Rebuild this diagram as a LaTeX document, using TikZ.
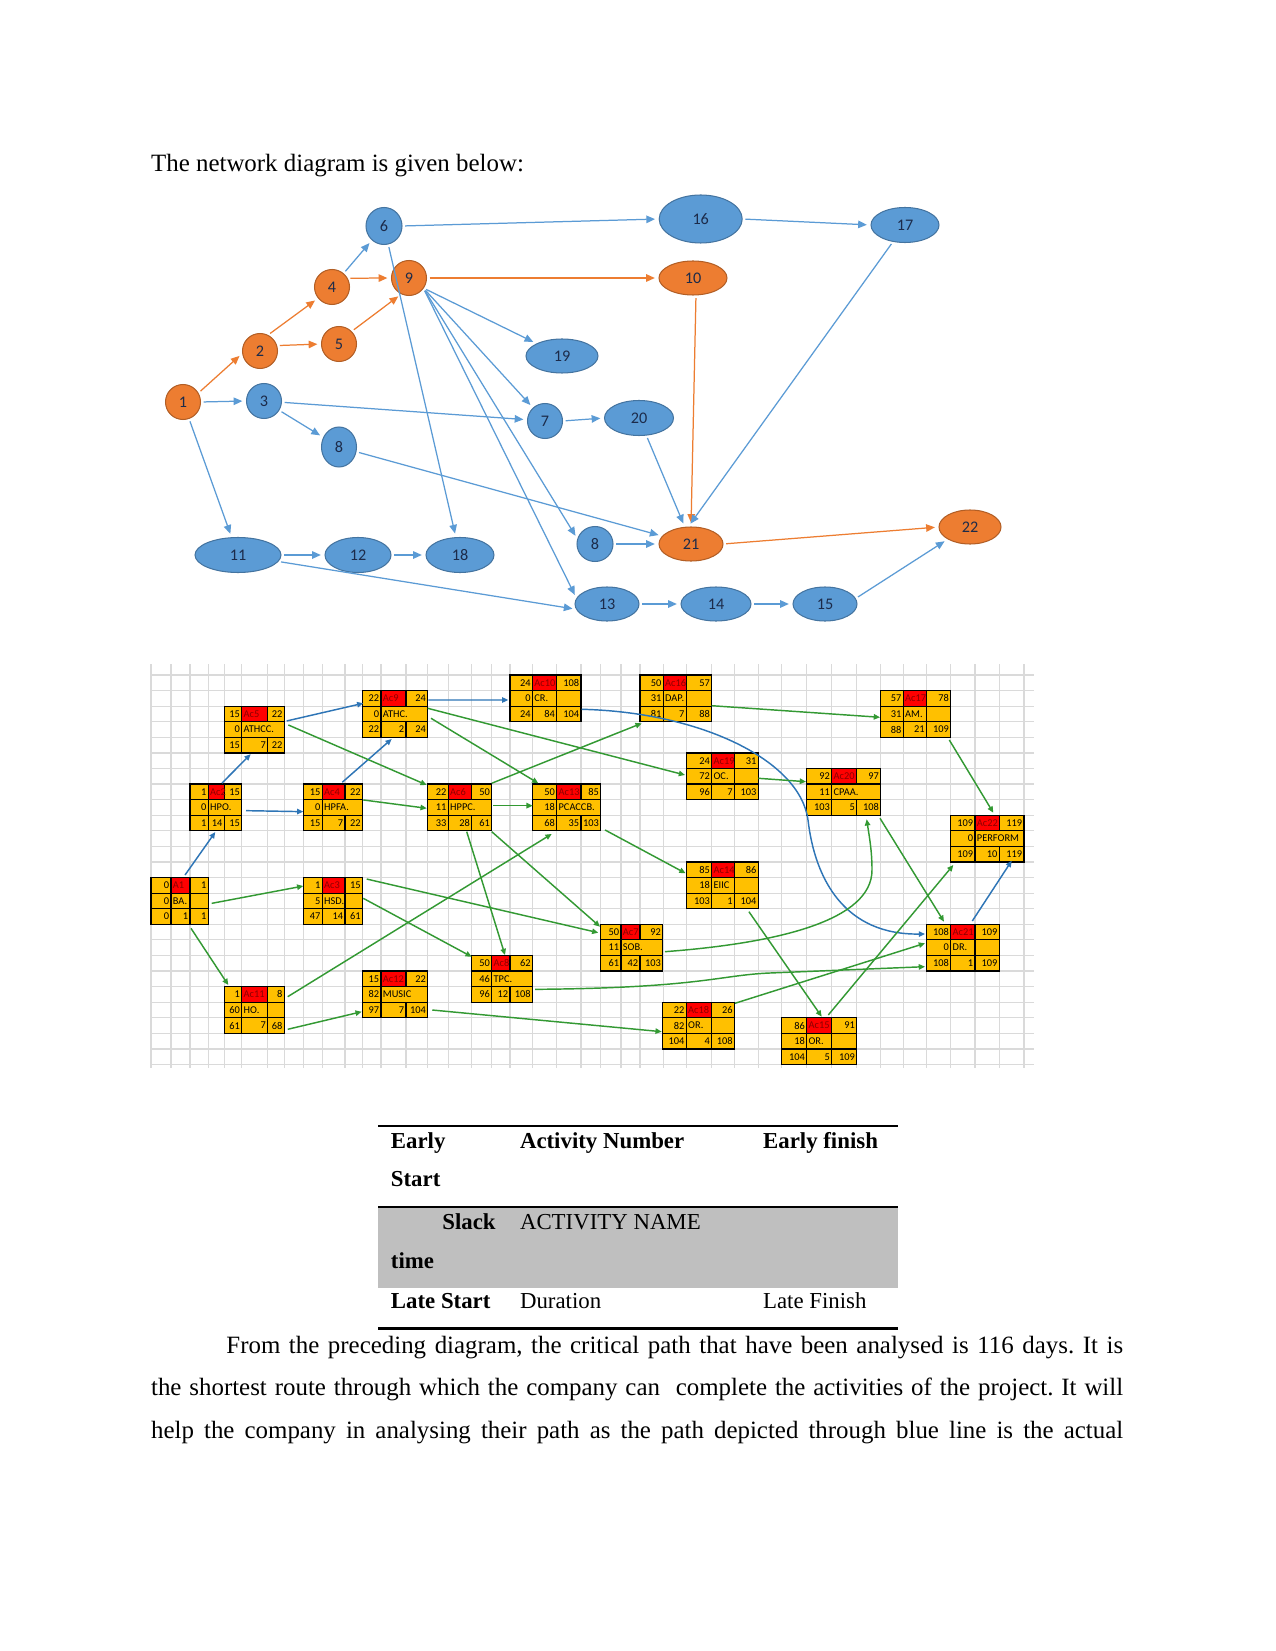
\documentclass[tikz,border=0pt]{standalone}
\usepackage{fontspec}
\setmainfont{Liberation Serif}
\newfontfamily\calibri{Carlito}
\usetikzlibrary{arrows.meta,shapes.geometric,calc}
\definecolor{evblue}{HTML}{5B9BD5}
\definecolor{evorange}{HTML}{ED7D31}
\definecolor{evtext}{HTML}{1C2B4A}
\definecolor{cellfill}{HTML}{FFC000}
\definecolor{cellred}{HTML}{FF0000}
\definecolor{idtext}{HTML}{8B0000}
\definecolor{pathblue}{HTML}{2E75B6}
\definecolor{pathgreen}{HTML}{339933}
\definecolor{gridline}{HTML}{DADADA}
\definecolor{band}{HTML}{BFBFBF}
\newdimen\pxu
\pxu=0.4818pt
\tikzset{
  ev/.style={ellipse,inner sep=0pt,outer sep=0pt,line width=0.5pt,font=\calibri\fontsize{7.8}{9}\selectfont,text=evtext},
  crit/.style={ev,fill=evorange,draw=evorange!75!black},
  norm/.style={ev,fill=evblue,draw=evblue!75!black},
  sz/.style 2 args={minimum width=#1*\pxu,minimum height=#2*\pxu},
  critlink/.style={draw=evorange,line width=0.6pt,-{Triangle[length=4.2pt,width=3.6pt]},shorten >=2pt,shorten <=1.5pt},
  normlink/.style={draw=evblue,line width=0.6pt,-{Triangle[length=4.2pt,width=3.6pt]},shorten >=2pt,shorten <=1.5pt},
  cell/.style={inner sep=0pt,font=\calibri\fontsize{5}{6}\selectfont},
  num/.style={cell,anchor=east},
  lbl/.style={cell,anchor=west},
  boxline/.style={line width=0.6pt},
  blink/.style={draw=pathblue,line width=0.7pt,-{Triangle[length=3pt,width=2.6pt]}},
  glink/.style={draw=pathgreen,line width=0.7pt,-{Triangle[length=3pt,width=2.6pt]}},
  tab/.style={inner sep=0pt,anchor=base west,font=\fontsize{11}{13}\selectfont},
}

\begin{document}
\begin{tikzpicture}[x=0.4818pt,y=-0.4818pt]
  \fill[white] (0,0) rectangle (1275,1651);
  \useasboundingbox (0,0) rectangle (1275,1651);

  \node[anchor=base west,inner sep=0pt,font=\fontsize{12}{14}\selectfont] (title) at (150.7,171.7) {The network diagram is given below:};

  % Event network
  \node[crit,sz={35}{35}] (n1) at (183,402) {1};
  \node[crit,sz={35}{35}] (n2) at (260,351) {2};
  \node[norm,sz={35}{35}] (n3) at (264,401) {3};
  \node[crit,sz={35}{35}] (n4) at (332,287) {4};
  \node[crit,sz={35}{35}] (n5) at (339,344) {5};
  \node[norm,sz={36}{37}] (n6) at (384,226) {6};
  \node[crit,sz={35}{35}] (n9) at (409,278) {9};
  \node[norm,sz={35}{40}] (n8a) at (339,447) {8};
  \node[norm,sz={72}{34}] (n19) at (562,356) {19};
  \node[norm,sz={35}{35}] (n7) at (545,421) {7};
  \node[norm,sz={86}{35}] (n11) at (238,555) {11};
  \node[norm,sz={66}{35}] (n12) at (358,555) {12};
  \node[norm,sz={68}{35}] (n18) at (460,555) {18};
  \node[norm,sz={83}{48}] (n16) at (700.7,219) {16};
  \node[norm,sz={68}{35}] (n17) at (905,225) {17};
  \node[crit,sz={68}{34}] (n10) at (693,278) {10};
  \node[norm,sz={69}{35}] (n20) at (639,418) {20};
  \node[norm,sz={36}{35}] (n8b) at (595,544) {8};
  \node[crit,sz={64}{34}] (n21) at (691,544) {21};
  \node[crit,sz={62}{34}] (n22) at (970,527) {22};
  \node[norm,sz={64}{34}] (n13) at (607,604) {13};
  \node[norm,sz={70}{34}] (n14) at (716,604) {14};
  \node[norm,sz={64}{34}] (n15) at (825,604) {15};

  % critical events
  \draw[critlink] (n1.30) -- (n2.187);
  \draw[critlink] (n2.64) -- (n4.219);
  \draw[critlink] (n2.18) -- (n5.west);
  \draw[critlink] (n4.30) -- (n9.west);
  \draw[critlink] (n5.45) -- (n9.245);
  \draw[critlink] (n9.east) -- (n10.west);
  \draw[critlink] (n10.-80) -- (n21.north);
  \draw[critlink] (n21.east) -- (n22.west);

  % other events
  \draw[normlink] (n1.east) -- (n3.west);
  \draw[normlink] (n1) -- (n11);
  \draw[normlink] (n3) -- (n7);
  \draw[normlink] (n3) -- (n8a);
  \draw[normlink] (n4) -- (n6);
  \draw[normlink] (n6.east) -- (n16.west);
  \draw[normlink] (n16.east) -- (n17.west);
  \draw[normlink] (n6) -- (n18);
  \draw[normlink] (n9.-35) -- (n19);
  \draw[normlink] (n9.-35) -- (n7);
  \draw[normlink] (n9.-35) -- (n8b.165);
  \draw[normlink] (n9.-35) -- (n13.170);
  \draw[normlink] (n7.east) -- (n20.west);
  \draw[normlink] (n20) -- (n21.110);
  \draw[normlink] (n17) -- (n21.100);
  \draw[normlink] (n8a) -- (n21);
  \draw[normlink] (n8b.east) -- (n21.west);
  \draw[normlink] (n11.east) -- (n12.west);
  \draw[normlink] (n12.east) -- (n18.west);
  \draw[normlink] (n11) -- (n13.190);
  \draw[normlink] (n13.east) -- (n14.west);
  \draw[normlink] (n14.east) -- (n15.west);
  \draw[normlink] (n15.10) -- (n22.south west);

  % Spreadsheet grid
  \begin{scope}
    \clip (150,664) rectangle (1034,1068);
    \foreach \gx in {151,171,190,208.3,224.3,241.7,267.7,284.3,303.3,322.3,345,362.5,381,406,427.7,448.3,471.7,491.7,510,532.5,556.7,581,600.7,621,640,663.3,686.3,711.7,734.5,758.3,781.7,806.7,831.7,856.7,880.7,903.3,926.5,950.7,975,999.3,1024}
      \draw[gridline,line width=0.6pt] (\gx,664) -- (\gx,1068);
    \foreach \k in {-1,...,25}
      \draw[gridline,line width=0.6pt] (150,675+15.58*\k) -- (1034,675+15.58*\k);
  \end{scope}

  % Activity boxes: name/x0/x1/x2/x3/row/ES/id/EF/slack/name/split/LS/dur/LF
  \foreach \bx/\xa/\xb/\xc/\xd/\row/\ES/\AID/\EF/\SLK/\ANM/\MSP/\LS/\DUR/\LF in {
      ac1/151/171/190/208.3/13/0/A1/1/0/BA./1/0/1/1,
      ac2/190/208.3/224.3/241.7/7/1/Ac2/15/0/HPO./0/1/14/15,
      ac3/303.3/322.3/345/362.5/13/1/Ac3/15/5/HSD./1/47/14/61,
      ac4/303.3/322.3/345/362.5/7/15/Ac4/22/0/HPFA./0/15/7/22,
      ac5/224.3/241.7/267.7/284.3/2/15/Ac5/22/0/ATHCC./0/15/7/22,
      ac6/427.7/448.3/471.7/491.7/7/22/Ac6/50/11/HPPC./0/33/28/61,
      ac7/600.7/621/640/662.7/16/50/Ac7/92/11/SOB./0/61/42/103,
      ac8/471.7/491.7/510/532.5/18/50/Ac8/62/46/TPC./0/96/12/108,
      ac9/362.5/381/406/427.7/1/22/Ac9/24/0/ATHC./0/22/2/24,
      ac10/510/532.5/556.7/581/0/24/Ac10/108/0/CR./1/24/84/104,
      ac11/224.3/241.7/267.7/284.3/20/1/Ac11/8/60/HO./1/61/7/68,
      ac12/362.5/381/406/427.7/19/15/Ac12/22/82/MUSIC/0/97/7/104,
      ac13/532.5/556.7/581/600.7/7/50/Ac13/85/18/PCACCB./0/68/35/103,
      ac14/686.3/711.7/734.5/758.3/12/85/Ac14/86/18/EIIC/1/103/1/104,
      ac15/781.7/806.7/831.7/856.7/22/86/Ac15/91/18/OR./1/104/5/109,
      ac16/640/663.3/686.3/711.7/0/50/Ac16/57/31/DAP./1/81/7/88,
      ac17/880.7/903.3/926.5/950.7/1/57/Ac17/78/31/AM./1/88/21/109,
      ac18/662.7/686.3/711.7/734.5/21/22/Ac18/26/82/OR./1/104/4/108,
      ac19/686.3/711.7/734.5/758.3/5/24/Ac19/31/72/OC./1/96/7/103,
      ac20/806.7/831.7/856.7/880.7/6/92/Ac20/97/11/CPAA./0/103/5/108,
      ac21/926.5/950.7/975/999.3/16/108/Ac21/109/0/DR./1/108/1/109,
      ac22/950.7/975/999.3/1024/9/109/Ac22/119/0/PERFORM/0/109/10/119} {
    \pgfmathsetmacro\yt{675+15.58*\row}
    \fill[cellfill] (\xa,\yt) rectangle (\xd,\yt+46.74);
    \fill[cellred] (\xb,\yt) rectangle (\xc,\yt+15.58);
    \draw[boxline] (\xa,\yt+15.58) -- (\xd,\yt+15.58) (\xa,\yt+31.16) -- (\xd,\yt+31.16)
      (\xb,\yt) -- (\xb,\yt+46.74) (\xc,\yt) -- (\xc,\yt+15.58) (\xc,\yt+31.16) -- (\xc,\yt+46.74);
    \ifnum\MSP=1 \draw[boxline] (\xc,\yt+15.58) -- (\xc,\yt+31.16); \fi
    \node[draw,boxline,inner sep=0pt,outer sep=0pt,anchor=north west,
      minimum width={(\xd-\xa)*\pxu},minimum height={46.74*\pxu}] (\bx) at (\xa,\yt) {};
    \node[num] (\bx-es) at (\xb-1.5,\yt+7.79) {\ES};
    \node[lbl,text=idtext] (\bx-id) at (\xb+1.5,\yt+7.79) {\AID};
    \node[num] (\bx-ef) at (\xd-1.5,\yt+7.79) {\EF};
    \node[num] (\bx-sl) at (\xb-1.5,\yt+23.37) {\SLK};
    \node[lbl] (\bx-nm) at (\xb+1.5,\yt+23.37) {\ANM};
    \node[num] (\bx-ls) at (\xb-1.5,\yt+38.95) {\LS};
    \node[num] (\bx-du) at (\xc-1.5,\yt+38.95) {\DUR};
    \node[num] (\bx-lf) at (\xd-1.5,\yt+38.95) {\LF};
  }

  % critical path links
  \draw[blink] ($(ac1.north west)+(34,-2.5)$) -- ($(ac2.north west)+(25.3,48)$);
  \draw[blink] ($(ac2.north west)+(32,-1)$) -- ($(ac5.north west)+(26.4,48)$);
  \draw[blink] ($(ac2.north west)+(56,26.6)$) -- ($(ac4.north west)+(0,27.6)$);
  \draw[blink] ($(ac4.north west)+(39,-1.8)$) -- ($(ac9.north west)+(29.2,48.4)$);
  \draw[blink] ($(ac5.north west)+(62.4,14.8)$) -- ($(ac9.north west)+(0.8,12.7)$);
  \draw[blink] ($(ac9.north west)+(65.8,9.4)$) -- ($(ac10.north west)+(-1.7,25)$);
  \draw[blink] ($(ac10.north west)+(71.7,34.3)$) .. controls (700,712) and (800,760) .. (808,820)
    .. controls (815,880) and (845,935) .. ($(ac21.north west)+(-1.5,9.7)$);
  \draw[blink] ($(ac21.north west)+(45.8,-3.3)$) -- ($(ac22.north west)+(61,45.5)$);

  % other links
  \draw[glink] ($(ac1.north west)+(60.7,25.8)$) -- ($(ac3.north west)+(0,8.5)$);
  \draw[glink] ($(ac1.north west)+(40,50.8)$) -- ($(ac11.north west)+(4,-1.6)$);
  \draw[glink] ($(ac11.north west)+(63.4,10.1)$) -- ($(ac13.north west)+(19.2,49.9)$);
  \draw[glink] ($(ac11.north west)+(63.4,42.7)$) -- ($(ac12.north west)+(-0.8,40.7)$);
  \draw[glink] ($(ac12.north west)+(69.8,39)$) -- ($(ac18.north west)+(-1,29.5)$);
  \draw[glink] ($(ac3.north west)+(63.4,1.5)$) -- ($(ac7.north west)+(-2.4,8.4)$);
  \draw[glink] ($(ac3.north west)+(60,20.8)$) -- ($(ac8.north west)+(0,1.3)$);
  \draw[glink] ($(ac5.north west)+(64,18.8)$) -- ($(ac6.north west)+(-1,0.9)$);
  \draw[glink] ($(ac4.north west)+(60,15.9)$) -- ($(ac6.north west)+(-1,24.2)$);
  \draw[glink] ($(ac6.north west)+(64,-0.8)$) -- ($(ac16.north west)+(1.7,48.3)$);
  \draw[glink] ($(ac6.north west)+(65.6,21.6)$) -- ($(ac13.north west)+(0.2,21.6)$);
  \draw[glink] ($(ac6.north west)+(39,47.6)$) -- ($(ac8.north west)+(33.3,-0.4)$);
  \draw[glink] ($(ac6.north west)+(64,47.6)$) -- ($(ac7.north west)+(-0.7,2.4)$);
  \draw[glink] ($(ac9.north west)+(65.2,17.7)$) -- ($(ac19.north west)+(-1.3,22.1)$);
  \draw[glink] ($(ac9.north west)+(68.5,27.7)$) -- ($(ac13.north west)+(5.8,-0.8)$);
  \draw[glink] ($(ac16.north west)+(71.7,30.7)$) -- ($(ac17.north west)+(-0.7,26.7)$);
  \draw[glink] ($(ac19.north west)+(72,25.4)$) -- ($(ac20.north west)+(-0.7,13.2)$);
  \draw[glink] ($(ac13.north west)+(72.5,45.9)$) -- ($(ac14.north west)+(-0.7,11.3)$);
  \draw[glink] ($(ac17.north west)+(68.6,49.4)$) -- ($(ac22.north west)+(42.6,-2.5)$);
  \draw[glink] ($(ac20.north west)+(73.3,49.8)$) -- ($(ac21.north west)+(17.5,-2.6)$);
  \draw[glink] ($(ac7.north west)+(64.3,27.4)$) .. controls (780,943) and (872,920) .. (872,870)
    .. controls (872,850) and (869,835) .. ($(ac20.north west)+(60,50.8)$);
  \draw[glink] ($(ac8.north west)+(63.3,33.9)$) .. controls (700,988) and (720,975) .. (770,973)
    -- ($(ac21.north west)+(-1.5,42.4)$);
  \draw[glink] ($(ac18.north west)+(72.3,1.1)$) -- ($(ac21.north west)+(-1.5,19)$);
  \draw[glink] ($(ac14.north west)+(62.6,49.7)$) -- ($(ac15.north west)+(40,-1.1)$);
  \draw[glink] ($(ac15.north west)+(46.6,-2.8)$) -- ($(ac22.north west)+(2.6,49.8)$);

  % Legend table
  \fill[band] (378.2,1207.5) rectangle (898.4,1287.5);
  \draw[line width=1pt] (378.2,1126) -- (898.4,1126);
  \draw[line width=1pt] (378.2,1207) -- (898.4,1207);
  \draw[line width=1pt] (378.2,1328.5) -- (898.4,1328.5);
  \node[tab] (t-es) at (390.5,1148.3) {\textbf{Early}};
  \node[tab] (t-es2) at (390.5,1186.7) {\textbf{Start}};
  \node[tab] (t-an) at (519.6,1148.3) {\textbf{Activity Number}};
  \node[tab] (t-ef) at (762.7,1148.3) {\textbf{Early finish}};
  \node[tab,anchor=base east] (t-sl) at (496.1,1229) {\textbf{Slack}};
  \node[tab] (t-sl2) at (390.5,1268.3) {\textbf{time}};
  \node[tab] (t-nm) at (519.6,1229) {ACTIVITY NAME};
  \node[tab] (t-ls) at (390.5,1308.3) {\textbf{Late Start}};
  \node[tab] (t-du) at (519.6,1308.3) {Duration};
  \node[tab] (t-lf) at (762.7,1308.3) {Late Finish};

  \node[anchor=base west,inner sep=0pt,text width=468.3pt,align=justify,font=\fontsize{12}{20.5}\selectfont] (para) at (150.7,1353.3)
    {\frenchspacing\noindent\hspace*{36.3pt}From the preceding diagram, the critical path that have been analysed is 116 days. It is\linebreak
     the shortest route through which the company can\ \ complete the activities of the project. It will\linebreak
     help the company in analysing their path as the path depicted through blue line is the actual\linebreak};
\end{tikzpicture}
\end{document}
